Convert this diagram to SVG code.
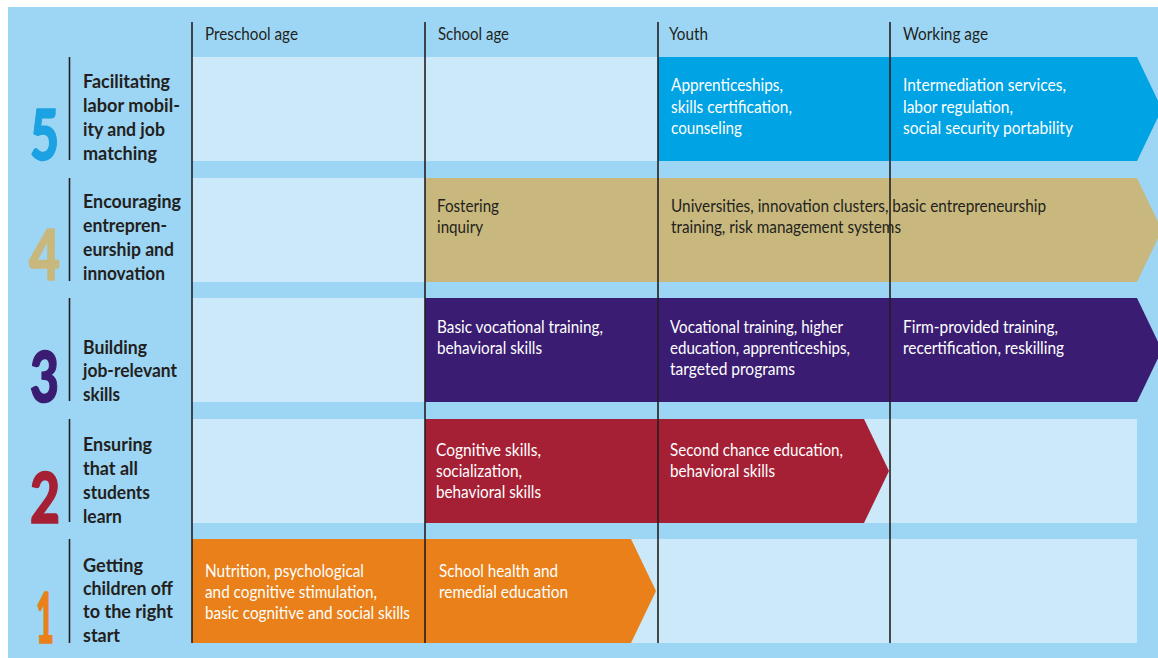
<svg xmlns="http://www.w3.org/2000/svg" width="1158" height="658" viewBox="0 0 1158 658">
  <style>
    .bg { fill: #9dd6f4; }
    .cell { fill: #cbe9f9; }
    .grid { stroke: #231f20; stroke-width: 1.6; fill: none; }
    .hdr { font-family: Lato, "Open Sans", sans-serif; font-size: 18px; fill: #231f20; }
    .lbl { font-family: Lato, "Open Sans", sans-serif; font-size: 18px; font-weight: bold; fill: #231f20; }
    .num { font-family: Lato, "Liberation Sans", sans-serif; font-size: 70px; font-weight: 900; stroke-width: 1.5; }
    .txt { font-family: Lato, "Open Sans", sans-serif; font-size: 18px; fill: #ffffff; }
    .dark { fill: #231f20; }
  </style>

  <!-- page background -->
  <rect x="0" y="0" width="1158" height="658" fill="#ffffff"/>
  <rect class="bg" x="8" y="7" width="1150" height="651"/>

  <!-- light row bands -->
  <g id="rows">
    <rect class="cell" x="192" y="57" width="945" height="104"/>
    <rect class="cell" x="192" y="178" width="945" height="104"/>
    <rect class="cell" x="192" y="298" width="945" height="104"/>
    <rect class="cell" x="192" y="419" width="945" height="104"/>
    <rect class="cell" x="192" y="539" width="945" height="104"/>
  </g>

  <!-- column headers -->
  <g id="headers">
    <text class="hdr" x="205" y="40" textLength="93" lengthAdjust="spacingAndGlyphs">Preschool age</text>
    <text class="hdr" x="438" y="40" textLength="71" lengthAdjust="spacingAndGlyphs">School age</text>
    <text class="hdr" x="669" y="40" textLength="39" lengthAdjust="spacingAndGlyphs">Youth</text>
    <text class="hdr" x="903" y="40" textLength="85" lengthAdjust="spacingAndGlyphs">Working age</text>
  </g>

  <!-- row 5 -->
  <g id="row5-label">
    <text class="num" x="30" y="160" fill="#1ca2e2" stroke="#1ca2e2" textLength="29" lengthAdjust="spacingAndGlyphs">5</text>
    <line class="grid" x1="69.5" y1="57" x2="69.5" y2="160"/>
    <text class="lbl" x="83" y="88" textLength="87" lengthAdjust="spacingAndGlyphs">Facilitating</text>
    <text class="lbl" x="83" y="112" textLength="97" lengthAdjust="spacingAndGlyphs">labor mobil-</text>
    <text class="lbl" x="83" y="136" textLength="82" lengthAdjust="spacingAndGlyphs">ity and job</text>
    <text class="lbl" x="83" y="160" textLength="74" lengthAdjust="spacingAndGlyphs">matching</text>
  </g>
  <g id="row5-bar">
    <polygon points="658,57 1137,57 1162,109 1137,161 658,161" fill="#00a3e3"/>
    <text class="txt" x="671" y="91" textLength="112" lengthAdjust="spacingAndGlyphs">Apprenticeships,</text>
    <text class="txt" x="671" y="112.5" textLength="121" lengthAdjust="spacingAndGlyphs">skills certification,</text>
    <text class="txt" x="671" y="134" textLength="71" lengthAdjust="spacingAndGlyphs">counseling</text>
    <text class="txt" x="903" y="91" textLength="163" lengthAdjust="spacingAndGlyphs">Intermediation services,</text>
    <text class="txt" x="903" y="112.5" textLength="110" lengthAdjust="spacingAndGlyphs">labor regulation,</text>
    <text class="txt" x="903" y="134" textLength="170" lengthAdjust="spacingAndGlyphs">social security portability</text>
  </g>

  <!-- row 4 -->
  <g id="row4-label">
    <text class="num" x="29" y="280" fill="#c8b87d" stroke="#c8b87d" textLength="31" lengthAdjust="spacingAndGlyphs">4</text>
    <line class="grid" x1="69.5" y1="178" x2="69.5" y2="281"/>
    <text class="lbl" x="83" y="208" textLength="98" lengthAdjust="spacingAndGlyphs">Encouraging</text>
    <text class="lbl" x="83" y="232" textLength="84" lengthAdjust="spacingAndGlyphs">entrepren-</text>
    <text class="lbl" x="83" y="256" textLength="91" lengthAdjust="spacingAndGlyphs">eurship and</text>
    <text class="lbl" x="83" y="280" textLength="82" lengthAdjust="spacingAndGlyphs">innovation</text>
  </g>
  <g id="row4-bar">
    <polygon points="425,178 1137,178 1162,230 1137,282 425,282" fill="#c8b87d"/>
    <text class="txt dark" x="437" y="212" textLength="62" lengthAdjust="spacingAndGlyphs">Fostering</text>
    <text class="txt dark" x="437" y="233" textLength="46" lengthAdjust="spacingAndGlyphs">inquiry</text>
    <text class="txt dark" x="671" y="212" textLength="375" lengthAdjust="spacingAndGlyphs">Universities, innovation clusters, basic entrepreneurship</text>
    <text class="txt dark" x="671" y="233" textLength="230" lengthAdjust="spacingAndGlyphs">training, risk management systems</text>
  </g>

  <!-- row 3 -->
  <g id="row3-label">
    <text class="num" x="30" y="402" fill="#3a1d72" stroke="#3a1d72" textLength="29" lengthAdjust="spacingAndGlyphs">3</text>
    <line class="grid" x1="69.5" y1="298" x2="69.5" y2="401"/>
    <text class="lbl" x="83" y="354" textLength="64" lengthAdjust="spacingAndGlyphs">Building</text>
    <text class="lbl" x="83" y="377" textLength="94" lengthAdjust="spacingAndGlyphs">job-relevant</text>
    <text class="lbl" x="83" y="401" textLength="37" lengthAdjust="spacingAndGlyphs">skills</text>
  </g>
  <g id="row3-bar">
    <polygon points="425,298 1137,298 1162,350 1137,402 425,402" fill="#3a1d72"/>
    <text class="txt" x="437" y="332.5" textLength="166" lengthAdjust="spacingAndGlyphs">Basic vocational training,</text>
    <text class="txt" x="437" y="353.5" textLength="105" lengthAdjust="spacingAndGlyphs">behavioral skills</text>
    <text class="txt" x="670" y="332.5" textLength="173" lengthAdjust="spacingAndGlyphs">Vocational training, higher</text>
    <text class="txt" x="670" y="353.5" textLength="180" lengthAdjust="spacingAndGlyphs">education, apprenticeships,</text>
    <text class="txt" x="670" y="375" textLength="125" lengthAdjust="spacingAndGlyphs">targeted programs</text>
    <text class="txt" x="903" y="332.5" textLength="155" lengthAdjust="spacingAndGlyphs">Firm-provided training,</text>
    <text class="txt" x="903" y="353.5" textLength="161" lengthAdjust="spacingAndGlyphs">recertification, reskilling</text>
  </g>

  <!-- row 2 -->
  <g id="row2-label">
    <text class="num" x="30" y="523" fill="#a52035" stroke="#a52035" textLength="30" lengthAdjust="spacingAndGlyphs">2</text>
    <line class="grid" x1="69.5" y1="419" x2="69.5" y2="522"/>
    <text class="lbl" x="83" y="450.5" textLength="69" lengthAdjust="spacingAndGlyphs">Ensuring</text>
    <text class="lbl" x="83" y="474.5" textLength="55" lengthAdjust="spacingAndGlyphs">that all</text>
    <text class="lbl" x="83" y="498.5" textLength="67" lengthAdjust="spacingAndGlyphs">students</text>
    <text class="lbl" x="83" y="522.5" textLength="39" lengthAdjust="spacingAndGlyphs">learn</text>
  </g>
  <g id="row2-bar">
    <polygon points="425,419 864,419 889,471 864,523 425,523" fill="#a52035"/>
    <text class="txt" x="436" y="456" textLength="105" lengthAdjust="spacingAndGlyphs">Cognitive skills,</text>
    <text class="txt" x="436" y="477" textLength="86" lengthAdjust="spacingAndGlyphs">socialization,</text>
    <text class="txt" x="436" y="497.5" textLength="105" lengthAdjust="spacingAndGlyphs">behavioral skills</text>
    <text class="txt" x="670" y="456" textLength="173" lengthAdjust="spacingAndGlyphs">Second chance education,</text>
    <text class="txt" x="670" y="477" textLength="105" lengthAdjust="spacingAndGlyphs">behavioral skills</text>
  </g>

  <!-- row 1 -->
  <g id="row1-label">
    <text class="num" x="36" y="643" fill="#e98019" stroke="#e98019" textLength="18" lengthAdjust="spacingAndGlyphs">1</text>
    <line class="grid" x1="69.5" y1="539" x2="69.5" y2="643"/>
    <text class="lbl" x="83" y="571.5" textLength="60" lengthAdjust="spacingAndGlyphs">Getting</text>
    <text class="lbl" x="83" y="595" textLength="90" lengthAdjust="spacingAndGlyphs">children off</text>
    <text class="lbl" x="83" y="618" textLength="90" lengthAdjust="spacingAndGlyphs">to the right</text>
    <text class="lbl" x="83" y="642" textLength="37" lengthAdjust="spacingAndGlyphs">start</text>
  </g>
  <g id="row1-bar">
    <polygon points="192,539 631,539 656,591 631,643 192,643" fill="#e98019"/>
    <text class="txt" x="205" y="576.5" textLength="159" lengthAdjust="spacingAndGlyphs">Nutrition, psychological</text>
    <text class="txt" x="205" y="597.5" textLength="172" lengthAdjust="spacingAndGlyphs">and cognitive stimulation,</text>
    <text class="txt" x="205" y="618.5" textLength="205" lengthAdjust="spacingAndGlyphs">basic cognitive and social skills</text>
    <text class="txt" x="439" y="576.5" textLength="119" lengthAdjust="spacingAndGlyphs">School health and</text>
    <text class="txt" x="439" y="597.5" textLength="129" lengthAdjust="spacingAndGlyphs">remedial education</text>
  </g>

  <!-- column dividers, drawn over the bars -->
  <g id="connectors">
    <line class="grid" x1="192" y1="22" x2="192" y2="643"/>
    <line class="grid" x1="425" y1="22" x2="425" y2="643"/>
    <line class="grid" x1="658" y1="22" x2="658" y2="643"/>
    <line class="grid" x1="890" y1="22" x2="890" y2="643"/>
  </g>
</svg>
